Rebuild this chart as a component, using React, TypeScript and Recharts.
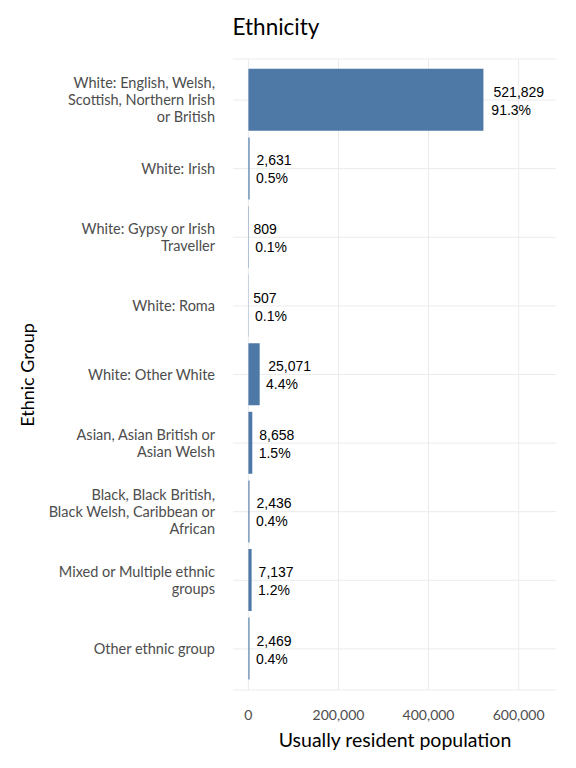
import { Bar, BarChart, CartesianGrid, LabelList, XAxis, YAxis } from "recharts";

const categories = [
  "White: English, Welsh,\nScottish, Northern Irish\nor British",
  "White: Irish",
  "White: Gypsy or Irish\nTraveller",
  "White: Roma",
  "White: Other White",
  "Asian, Asian British or\nAsian Welsh",
  "Black, Black British,\nBlack Welsh, Caribbean or\nAfrican",
  "Mixed or Multiple ethnic\ngroups",
  "Other ethnic group"
];
const population = [521829, 2631, 809, 507, 25071, 8658, 2436, 7137, 2469];
const percentages = ["91.3%", "0.5%", "0.1%", "0.1%", "4.4%", "1.5%", "0.4%", "1.2%", "0.4%"];
const xTicks = [0, 200000, 400000, 600000];
const gridValues = [0, 100000, 200000, 300000, 400000, 500000, 600000];

const data = categories.map((group, i) => ({
  group,
  value: population[i],
  pct: percentages[i]
}));

const uiFont = "Lato, 'Open Sans', sans-serif";
const labelFont = "'Liberation Sans', Arial, sans-serif";
const labelSize = 14;

// Arial-ish advance widths, used to mimic ggplot's hjust < 0 per line
const charWidth = (c: string) => {
  if (/[0-9]/.test(c)) return 0.556;
  if (c === "," || c === ".") return 0.278;
  if (c === "%") return 0.889;
  return 0.5;
};
const textWidth = (s: string) =>
  s.split("").reduce((sum, c) => sum + charWidth(c), 0) * labelSize;

function GroupTick(props: any) {
  const { y, payload } = props;
  const lines: string[] = String(payload.value).split("\n");
  const lineHeight = 17;
  const start = y - ((lines.length - 1) * lineHeight) / 2 + 5;
  return (
    <text textAnchor="end" fill="#4d4d4d" fontFamily={uiFont} fontSize={14.5}>
      {lines.map((line, i) => (
        <tspan key={i} x={215} y={start + i * lineHeight}>
          {line}
        </tspan>
      ))}
    </text>
  );
}

function ValueLabel(props: any) {
  const { x, y, width, height, index } = props;
  const end = Number(x) + Number(width);
  const mid = Number(y) + Number(height) / 2;
  const first = population[index].toLocaleString("en-US");
  const second = percentages[index];
  return (
    <text fill="#000" fontFamily={labelFont} fontSize={labelSize}>
      <tspan x={end + 0.2 * textWidth(first)} y={mid - 3}>
        {first}
      </tspan>
      <tspan x={end + 0.2 * textWidth(second)} y={mid + 15}>
        {second}
      </tspan>
    </text>
  );
}

export default function App() {
  return (
    <div style={{ position: "absolute", left: 0, top: 0, width: 576, height: 768, background: "#fff" }}>
      <BarChart
        width={576}
        height={768}
        data={data}
        layout="vertical"
        margin={{ top: 59, right: 20, bottom: 48, left: 0 }}
      >
        <text x={276} y={35} textAnchor="middle" fontFamily={uiFont} fontSize={22.5} fill="#000">
          Ethnicity
        </text>
        <CartesianGrid stroke="#ebebeb" strokeWidth={1} verticalValues={gridValues} />
        <XAxis
          type="number"
          dataKey="value"
          domain={[-34200, 683000]}
          ticks={xTicks}
          allowDataOverflow
          axisLine={false}
          tickLine={false}
          tickMargin={14}
          height={30}
          tick={{ fill: "#4d4d4d", fontFamily: uiFont, fontSize: 14 }}
          tickFormatter={(v: number) => v.toLocaleString("en-US")}
        />
        <YAxis
          type="category"
          dataKey="group"
          width={233}
          axisLine={false}
          tickLine={false}
          interval={0}
          padding={{ top: 6.8, bottom: 6.8 }}
          tick={<GroupTick />}
        />
        <Bar dataKey="value" fill="#4e79a7" barSize={62} isAnimationActive={false}>
          <LabelList dataKey="value" content={<ValueLabel />} />
        </Bar>
        <text x={395} y={747} textAnchor="middle" fontFamily={uiFont} fontSize={19.5} fill="#000">
          Usually resident population
        </text>
        <text
          x={34}
          y={375}
          textAnchor="middle"
          fontFamily={uiFont}
          fontSize={18}
          fill="#000"
          transform="rotate(-90 34 375)"
        >
          Ethnic Group
        </text>
      </BarChart>
    </div>
  );
}
